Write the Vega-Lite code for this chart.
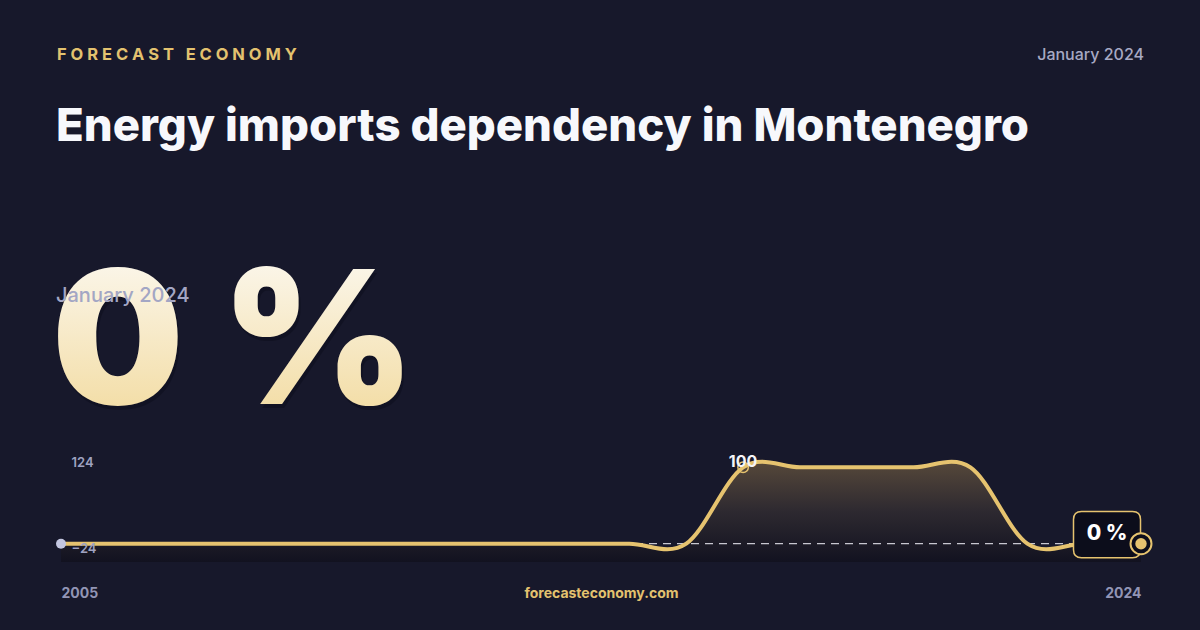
{
  "$schema": "https://vega.github.io/schema/vega-lite/v6.json",
  "background": "#17182b",
  "padding": {"left": 51, "top": 46, "right": 52, "bottom": 30},
  "config": {
    "font": "Inter",
    "view": {"stroke": null},
    "axis": {"grid": false, "domain": false, "ticks": false, "tickSize": 0}
  },
  "datasets": {
    "series": [
      {"year": 2005, "value": 0},
      {"year": 2006, "value": 0},
      {"year": 2007, "value": 0},
      {"year": 2008, "value": 0},
      {"year": 2009, "value": 0},
      {"year": 2010, "value": 0},
      {"year": 2011, "value": 0},
      {"year": 2012, "value": 0},
      {"year": 2013, "value": 0},
      {"year": 2014, "value": 0},
      {"year": 2015, "value": 0},
      {"year": 2016, "value": 0},
      {"year": 2017, "value": 100},
      {"year": 2018, "value": 100},
      {"year": 2019, "value": 100},
      {"year": 2020, "value": 100},
      {"year": 2021, "value": 100},
      {"year": 2022, "value": 0},
      {"year": 2023, "value": 0},
      {"year": 2024, "value": 0}
    ]
  },
  "spacing": 0,
  "vconcat": [
    {
      "spacing": 0,
      "hconcat": [
        {
          "width": 700,
          "height": 41,
          "data": {"values": []},
          "mark": "text",
          "title": {
            "text": "F O R E C A S T \u00a0 E C O N O M Y",
            "anchor": "start",
            "offset": 0,
            "dx": -4,
            "fontSize": 16.5,
            "fontWeight": 700,
            "color": "#e3c26f"
          }
        },
        {
          "width": 380,
          "height": 41,
          "data": {"values": []},
          "mark": "text",
          "title": {
            "text": "January 2024",
            "anchor": "end",
            "offset": 0,
            "dx": 3,
            "fontSize": 16,
            "fontWeight": 500,
            "color": "#a7a9c4"
          }
        }
      ]
    },
    {
      "width": 345,
      "height": 90,
      "data": {"name": "series"},
      "transform": [
        {"filter": "datum.year == 2024"},
        {"calculate": "datum.value + ' %'", "as": "label"}
      ],
      "title": {
        "text": "Energy imports dependency in Montenegro",
        "subtitle": "January 2024",
        "anchor": "start",
        "frame": "group",
        "offset": -51,
        "dx": -5,
        "fontSize": 45.5,
        "fontWeight": 800,
        "color": "#f7f8fc",
        "subtitleFontSize": 20,
        "subtitleFontWeight": 500,
        "subtitleColor": "#a3a6c4",
        "subtitlePadding": 136
      },
      "layer": [
        {
          "mark": {"type": "text", "align": "center", "baseline": "alphabetic", "fontSize": 186, "fontWeight": 900, "fill": "#05060f", "opacity": 0.28, "dx": 2, "dy": 4},
          "encoding": {"text": {"field": "label"}}
        },
        {
          "mark": {
            "type": "text", "align": "center", "baseline": "alphabetic", "fontSize": 186, "fontWeight": 900,
            "fill": {"gradient": "linear", "x1": 0, "y1": 0, "x2": 0, "y2": 1,
              "stops": [{"offset": 0, "color": "#fdfcfa"}, {"offset": 1, "color": "#f1d795"}]}
          },
          "encoding": {"text": {"field": "label"}}
        }
      ]
    },
    {
      "width": 1080,
      "height": 113,
      "data": {"name": "series"},
      "encoding": {
        "x": {
          "field": "year",
          "type": "quantitative",
          "scale": {"domain": [2005, 2024], "nice": false, "zero": false},
          "axis": {
            "values": [2005, 2024],
            "format": "d",
            "zindex": 1,
            "labelFlush": true,
            "labelPadding": 24,
            "labelFontSize": 14,
            "labelFontWeight": 700,
            "labelColor": "#9295b5",
            "title": "forecasteconomy.com",
            "titlePadding": -14,
            "titleFontSize": 14,
            "titleFontWeight": 700,
            "titleColor": "#e3c26f"
          }
        },
        "y": {
          "field": "value",
          "type": "quantitative",
          "scale": {"domain": [-24, 124], "nice": false, "zero": false},
          "axis": {
            "values": [-24, 124],
            "title": null,
            "zindex": 1,
            "labelAlign": "left",
            "labelPadding": -10,
            "labelBaseline": "middle",
            "labelOffset": {"condition": {"test": "datum.value > 0", "value": 13}, "value": -14},
            "labelFontSize": 13,
            "labelFontWeight": 600,
            "labelColor": "#9fa2c0"
          }
        }
      },
      "layer": [
        {
          "mark": {
            "type": "area", "interpolate": "cardinal",
            "color": {"gradient": "linear", "x1": 0, "y1": 0, "x2": 0, "y2": 1,
              "stops": [{"offset": 0, "color": "#56483a"}, {"offset": 0.5, "color": "#2d2930"}, {"offset": 1, "color": "#121220"}]}
          },
          "encoding": {"y2": {"datum": -24}}
        },
        {
          "transform": [
            {"window": [{"op": "last_value", "field": "value", "as": "latest"}], "sort": [{"field": "year", "order": "ascending"}], "frame": [null, null]},
            {"filter": "datum.value == datum.latest"}
          ],
          "mark": {"type": "rule", "strokeDash": [8, 6], "color": "#e6e6ee", "strokeWidth": 1.2, "opacity": 0.85},
          "encoding": {
            "x": {"aggregate": "min", "field": "year", "type": "quantitative"},
            "x2": {"aggregate": "max", "field": "year"}
          }
        },
        {
          "mark": {"type": "line", "interpolate": "cardinal", "color": "#e6c36f", "strokeWidth": 4}
        },
        {
          "transform": [{"filter": "datum.year == 2005"}],
          "mark": {"type": "point", "filled": true, "color": "#c3c6e0", "size": 100, "opacity": 1}
        },
        {
          "transform": [
            {"window": [{"op": "row_number", "as": "rn"}], "sort": [{"field": "value", "order": "descending"}, {"field": "year", "order": "ascending"}]},
            {"filter": "datum.rn == 1"}
          ],
          "mark": {"type": "point", "filled": false, "color": "#e6c36f", "strokeWidth": 1.5, "size": 110, "opacity": 1}
        },
        {
          "transform": [
            {"window": [{"op": "row_number", "as": "rn"}], "sort": [{"field": "value", "order": "descending"}, {"field": "year", "order": "ascending"}]},
            {"filter": "datum.rn == 1"}
          ],
          "mark": {"type": "text", "color": "#f4f4f8", "fontSize": 16, "fontWeight": 700, "baseline": "middle", "dy": -5},
          "encoding": {"text": {"field": "value", "format": "d"}}
        },
        {
          "transform": [{"filter": "datum.year == 2024"}],
          "mark": {
            "type": "point", "filled": true, "fill": "#0c0d1b", "stroke": "#e6c36f", "strokeWidth": 1.5, "opacity": 1,
            "size": 4489, "xOffset": -34, "yOffset": -9,
            "shape": "M-0.76,-0.69 L0.76,-0.69 Q1,-0.69 1,-0.45 L1,0.45 Q1,0.69 0.76,0.69 L-0.76,0.69 Q-1,0.69 -1,0.45 L-1,-0.45 Q-1,-0.69 -0.76,-0.69 Z"
          }
        },
        {
          "transform": [{"filter": "datum.year == 2024"}],
          "mark": {"type": "point", "filled": true, "fill": "#0c0d1b", "stroke": "#e6c36f", "strokeWidth": 2, "size": 440, "opacity": 1}
        },
        {
          "transform": [{"filter": "datum.year == 2024"}],
          "mark": {"type": "point", "filled": true, "color": "#e6c36f", "size": 130, "opacity": 1}
        },
        {
          "transform": [
            {"filter": "datum.year == 2024"},
            {"calculate": "datum.value + ' %'", "as": "label"}
          ],
          "mark": {"type": "text", "color": "#ffffff", "fontSize": 21, "fontWeight": 800, "baseline": "middle", "align": "center", "dx": -34, "dy": -10},
          "encoding": {"text": {"field": "label"}}
        }
      ]
    }
  ]
}
